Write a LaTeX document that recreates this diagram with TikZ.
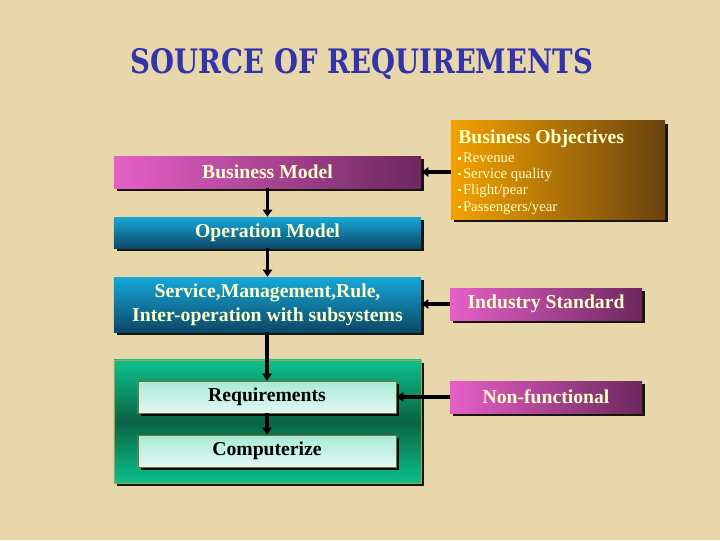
\documentclass[tikz,border=0pt]{standalone}
\usepackage{fontspec}
\setmainfont{Liberation Serif}
\newfontfamily\titlefont{DejaVu Serif}
\usetikzlibrary{arrows.meta,shadows}
\definecolor{bg}{HTML}{E9D7AC}
\definecolor{titleblue}{HTML}{3434AA}
\definecolor{txty}{HTML}{FFFFC8}
\definecolor{magL}{HTML}{E660C8}
\definecolor{magR}{HTML}{6C285E}
\definecolor{orL}{HTML}{F2A200}
\definecolor{orR}{HTML}{6A4210}
\definecolor{blT}{HTML}{16A8D8}
\definecolor{blB}{HTML}{0C4868}
\definecolor{grT}{HTML}{0CC08E}
\definecolor{grM}{HTML}{0A6444}
\definecolor{ltT}{HTML}{A8EAD6}
\definecolor{ltB}{HTML}{E2F8F4}
\definecolor{gold}{HTML}{B0A048}
\newcommand\bul{\rule[0.45ex]{1.6pt}{1.6pt}\,}
\begin{document}
\begin{tikzpicture}[x=0.025cm,y=-0.025cm,
  shd/.style={drop shadow={fill=black, opacity=0.9, shadow xshift=0.075cm, shadow yshift=-0.075cm}},
  box/.style={shd, draw=none, inner sep=0pt, align=center, text=txty,
    font=\bfseries\fontsize{14}{17}\selectfont},
  magbox/.style={box, left color=magL, right color=magR},
  bluebox/.style={box, top color=blT, bottom color=blB},
  litebox/.style={box, draw=gold!70!black, line width=0.4pt, top color=ltT, bottom color=ltB, text=black},
  arr/.style={line width=2.2pt, -{Triangle[width=6.5pt,length=5pt]}},
  btext/.style={anchor=west, inner sep=0pt, text=txty, font=\fontsize{10.5}{12}\selectfont}]
\fill[bg] (0,0) rectangle (720,540);
\useasboundingbox (0,0) rectangle (720,540);

\node[anchor=base, inner sep=0pt] (title) at (362,73)
  {\color{titleblue}\titlefont\bfseries\resizebox{11.55cm}{0.625cm}{SOURCE OF REQUIREMENTS}};

\node[magbox, minimum width=7.675cm, minimum height=0.8cm] (bm) at (267.5,172) {Business Model};
\node[box, left color=orL, right color=orR, minimum width=5.35cm, minimum height=2.45cm] (bo) at (558,170) {};
\node[anchor=west, inner sep=0pt, text=txty, font=\bfseries\fontsize{14}{16}\selectfont] (bot) at (458,139) {Business Objectives};
\node[btext] (b1) at (458,158) {\bul Revenue};
\node[btext] (b2) at (458,175) {\bul Service quality};
\node[btext] (b3) at (458,191) {\bul Flight/pear};
\node[btext] (b4) at (458,208) {\bul Passengers/year};

\node[bluebox, minimum width=7.675cm, minimum height=0.775cm] (om) at (267.5,232.5) {Operation Model};
\node[bluebox, minimum width=7.675cm, minimum height=1.375cm] (svc) at (267.5,304.5)
  {Service,Management,Rule,\\Inter-operation with subsystems};
\node[magbox, minimum width=4.8cm, minimum height=0.8cm] (is) at (546,304) {Industry Standard};

\node[box, draw=gold, line width=0.6pt, top color=grT, bottom color=grT, middle color=grM,
  minimum width=7.675cm, minimum height=3.075cm] (cont) at (267.5,421.5) {};
\node[litebox, minimum width=6.45cm, minimum height=0.8cm] (req) at (267,397) {Requirements};
\node[litebox, minimum width=6.45cm, minimum height=0.8cm] (comp) at (267,451) {Computerize};
\node[magbox, minimum width=4.8cm, minimum height=0.8cm] (nf) at (546,397) {Non-functional};

\draw[arr] (bo.west |- bm.east) -- (bm.east);
\draw[arr] (bm.south) -- (om.north);
\draw[arr] (om.south) -- (svc.north);
\draw[arr] (is.west) -- (is.west -| svc.east);
\draw[arr] (svc.south -| req.north) -- (req.north);
\draw[arr] (nf.west) -- (nf.west -| req.east);
\draw[arr] (req.south) -- (comp.north);
\end{tikzpicture}
\end{document}
